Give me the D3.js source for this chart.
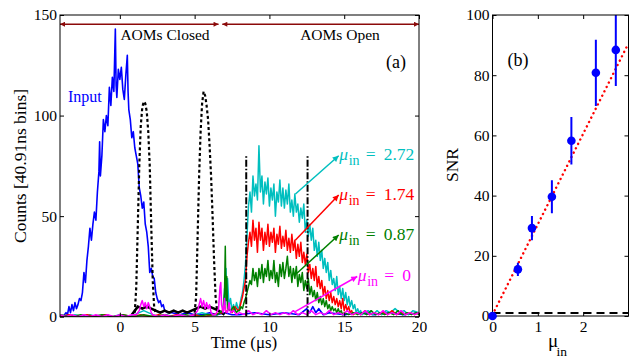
<!DOCTYPE html>
<html><head><meta charset="utf-8">
<script src="https://cdn.jsdelivr.net/npm/d3@7"></script>
<style>
body{margin:0;background:#fff;}
svg{display:block;font-family:"Liberation Serif","Times New Roman",serif;}
</style></head><body>
<svg id="c" width="633" height="358"></svg>
<script>
// ---------------- DATA (panel a) ----------------
const xTicksA = [0, 5, 10, 15, 20];
const yTicksA = [0, 50, 100, 150];
const inputData = [[-4,1],[-3.8,0],[-3.6,2],[-3.5,1],[-3.4,5],[-3.3,2],[-3.2,6],[-3.1,3],[-3,7],[-2.9,4],[-2.8,6],[-2.7,9],[-2.6,8],[-2.5,12],[-2.4,22],[-2.3,17],[-2.2,28],[-2.1,35],[-2,44],[-1.9,38],[-1.8,46],[-1.7,52],[-1.6,48],[-1.5,62],[-1.4,72],[-1.35,87],[-1.3,70],[-1.2,80],[-1.1,98],[-1,92],[-0.9,100],[-0.8,95],[-0.7,114],[-0.6,105],[-0.5,119],[-0.4,112],[-0.3,143],[-0.25,115],[-0.2,109],[-0.1,123],[0,118],[0.1,124],[0.2,113],[0.3,108],[0.4,120],[0.5,130],[0.55,112],[0.6,103],[0.7,98],[0.8,89],[0.9,92],[1,84],[1.1,80],[1.2,76],[1.3,64],[1.4,60],[1.5,54],[1.6,57],[1.7,46],[1.8,42],[1.9,35],[2,22],[2.1,24],[2.2,20],[2.3,19],[2.4,12],[2.5,9],[2.6,7],[2.7,8],[2.8,5],[2.9,6],[3,3],[3.2,2],[3.5,2],[4,1],[4.5,2],[5,1],[5.5,1],[6,2],[6.5,1],[7,2],[7.5,1],[8,1],[9,2],[10,1],[11,2],[12,1],[12.5,4],[12.7,2],[12.9,5],[13.1,2],[13.3,4],[13.6,1],[14,2],[15,1],[16,2],[17,1],[18,2],[19,1],[20,2]];
const controlLeak = [[0.8,1],[1.0,3],[1.2,5],[1.5,4],[1.8,5],[2.1,4],[2.4,3],[2.7,2],[3.0,3],[3.3,2],[3.6,3],[3.9,2],[4.2,3],[4.5,2],[4.8,3],[5.1,4],[5.4,5],[5.7,4],[6.0,5],[6.3,4],[6.6,3],[6.8,2],[7.0,1]];
const controlPulse1 = [[1.0,2],[1.1,15],[1.2,45],[1.3,75],[1.4,95],[1.5,104],[1.6,107],[1.7,106],[1.8,102],[1.9,92],[2.0,75],[2.1,45],[2.2,18],[2.3,4],[2.4,2]];
const controlPulse2 = [[5.0,2],[5.1,10],[5.2,40],[5.3,70],[5.4,92],[5.5,106],[5.6,112],[5.7,110],[5.8,105],[5.9,98],[6.0,85],[6.1,70],[6.2,50],[6.3,28],[6.4,10],[6.5,3]];
const gateTimes = [8.45, 12.55];
const gateLevel = 80;
const cyanData = [[-4,1],[-3.5,0],[-3,1],[-2.5,0],[-2,1],[-1.5,0],[-1,1],[-0.5,0],[0,1],[0.5,0],[1,1],[1.3,2],[1.6,3],[1.9,2],[2.2,1],[2.6,0],[3,1],[3.5,0],[4,1],[4.5,0],[5,1],[5.5,2],[6,1],[6.5,1],[6.9,3],[7.0,14],[7.05,6],[7.1,24],[7.15,9],[7.2,19],[7.3,5],[7.4,9],[7.5,3],[7.6,6],[7.7,3],[7.8,7],[7.9,4],
[8.0,5],[8.1,9],[8.2,12],[8.3,18],[8.4,26],[8.5,40],[8.6,55],[8.7,62],[8.8,52],[8.9,70],[9.0,60],[9.1,66],[9.2,58],[9.3,85],[9.4,62],[9.5,70],[9.6,56],[9.7,67],[9.8,61],[9.9,69],[10.0,55],[10.1,64],[10.2,58],[10.3,66],[10.4,50],[10.5,62],[10.6,57],[10.7,68],[10.8,55],[10.9,64],[11.0,54],[11.1,63],[11.2,56],[11.3,66],[11.4,52],[11.5,58],[11.6,50],[11.7,61],[11.8,52],[11.9,56],[12.0,47],[12.1,54],[12.2,49],[12.3,56],[12.4,42],[12.5,48],[12.6,40],[12.7,46],[12.8,38],[12.9,44],[13.0,33],[13.1,38],[13.2,30],[13.3,37],[13.4,28],[13.5,33],[13.6,24],[13.7,29],[13.8,22],[13.9,27],[14.0,18],[14.1,23],[14.2,16],[14.3,19],[14.4,13],[14.5,20],[14.6,11],[14.7,15],[14.8,9],[14.9,14],[15.0,8],[15.1,12],[15.2,6],[15.3,10],[15.4,5],[15.5,8],[15.6,4],[15.7,6],[15.8,2],[15.9,4],[16.0,2],[16.1,3],[16.2,1],
[16.4,2],[16.6,3],[16.9,1],[17.2,3],[17.5,1],[17.8,3],[18.1,2],[18.4,4],[18.7,2],[19,3],[19.3,1],[19.6,3],[20,2]];
const redData = [[-4,0],[-3.4,1],[-2.8,0],[-2.2,1],[-1.6,0],[-1,1],[-0.4,0],[0.2,1],[0.8,0],[1.4,1],[2,0],[2.6,1],[3.2,0],[3.8,1],[4.4,0],[5,1],[5.6,0],[6.2,1],[6.8,2],[7.0,6],[7.1,2],[7.3,4],[7.5,2],[7.7,5],[7.9,3],
[8.0,4],[8.1,7],[8.2,10],[8.3,14],[8.4,18],[8.5,30],[8.6,37],[8.7,42],[8.8,35],[8.9,48],[9.0,38],[9.1,44],[9.2,32],[9.3,47],[9.4,38],[9.5,44],[9.6,33],[9.7,42],[9.8,36],[9.9,46],[10.0,35],[10.1,42],[10.2,37],[10.3,44],[10.4,32],[10.5,41],[10.6,36],[10.7,45],[10.8,34],[10.9,40],[11.0,35],[11.1,43],[11.2,33],[11.3,39],[11.4,32],[11.5,41],[11.6,33],[11.7,38],[11.8,29],[11.9,36],[12.0,30],[12.1,37],[12.2,27],[12.3,32],[12.4,26],[12.5,31],[12.6,22],[12.7,26],[12.8,19],[12.9,24],[13.0,18],[13.1,25],[13.2,15],[13.3,20],[13.4,14],[13.5,18],[13.6,11],[13.7,15],[13.8,9],[13.9,13],[14.0,8],[14.1,12],[14.2,7],[14.3,10],[14.4,6],[14.5,9],[14.6,5],[14.7,8],[14.8,4],[14.9,9],[15.0,3],[15.1,6],[15.2,3],[15.3,5],[15.4,2],[15.5,3],[15.6,1],
[15.8,2],[16.1,1],[16.4,3],[16.7,1],[17,2],[17.3,1],[17.6,2],[17.9,1],[18.2,3],[18.5,1],[18.8,2],[19.1,1],[19.4,2],[19.7,1],[20,2]];
const greenData = [[-4,1],[-3.3,0],[-2.6,1],[-1.9,0],[-1.2,1],[-0.5,0],[0.2,1],[0.9,0],[1.6,1],[2.3,0],[3,1],[3.7,0],[4.4,1],[5.1,0],[5.8,1],[6.5,1],[6.9,3],[7.0,12],[7.05,35],[7.1,8],[7.15,20],[7.2,4],[7.4,3],[7.6,5],[7.8,2],[7.9,3],
[8.0,3],[8.1,5],[8.2,4],[8.3,7],[8.4,9],[8.5,12],[8.6,15],[8.7,18],[8.8,16],[8.9,24],[9.0,18],[9.1,22],[9.2,15],[9.3,24],[9.4,19],[9.5,26],[9.6,17],[9.7,24],[9.8,20],[9.9,28],[10.0,18],[10.1,23],[10.2,19],[10.3,28],[10.4,17],[10.5,22],[10.6,15],[10.7,26],[10.8,20],[10.9,27],[11.0,19],[11.1,24],[11.2,30],[11.3,20],[11.4,25],[11.5,17],[11.6,24],[11.7,19],[11.8,25],[11.9,15],[12.0,21],[12.1,17],[12.2,22],[12.3,13],[12.4,18],[12.5,14],[12.6,19],[12.7,11],[12.8,15],[12.9,10],[13.0,13],[13.1,8],[13.2,12],[13.3,7],[13.4,10],[13.5,6],[13.6,9],[13.7,5],[13.8,8],[13.9,4],[14.0,6],[14.1,3],[14.2,5],[14.3,3],[14.4,4],[14.5,2],[14.6,4],[14.7,2],[14.8,3],[14.9,1],[15.0,2],
[15.3,1],[15.6,2],[15.9,1],[16.2,2],[16.5,1],[16.8,3],[17.1,1],[17.4,2],[17.7,1],[18,2],[18.3,1],[18.6,3],[18.9,1],[19.2,2],[19.5,1],[19.8,2],[20,1]];
const magentaData = [[-4,1],[-3.6,0],[-3.2,1],[-2.8,0],[-2.4,1],[-2,0],[-1.6,1],[-1.2,0],[-0.8,1],[-0.4,0],[0,1],[0.4,0],[0.8,1],[1.1,1],[1.3,3],[1.4,6],[1.5,8],[1.6,5],[1.7,7],[1.8,4],[1.9,7],[2.0,5],[2.1,2],[2.2,1],[2.6,0],[3,1],[3.5,0],[4,1],[4.5,0],[5,1],[5.2,3],[5.3,6],[5.4,9],[5.5,5],[5.6,8],[5.7,4],[5.8,7],[5.9,4],[6.0,6],[6.1,2],[6.2,1],[6.4,1],[6.6,4],[6.7,15],[6.75,17],[6.8,6],[6.9,2],[7.0,9],[7.05,3],[7.2,2],[7.3,7],[7.4,2],[7.6,3],[7.8,1],[8,2],[8.3,1],[8.6,3],[8.9,1],[9.2,2],[9.5,1],[9.8,3],[10.1,1],[10.4,2],[10.7,1],[11,2],[11.3,1],[11.6,3],[11.9,1],[12.2,2],[12.5,1],[12.8,3],[13.1,1],[13.4,2],[13.7,1],[14,3],[14.3,1],[14.6,2],[14.9,1],[15.2,3],[15.5,1],[15.8,2],[16.1,1],[16.4,3],[16.7,1],[17,2],[17.3,1],[17.6,3],[17.9,1],[18.2,2],[18.5,1],[18.8,3],[19.1,1],[19.4,2],[19.7,1],[20,2]];
const muLabels = ["2.72", "1.74", "0.87", "0"];
const aomSpans = [[-4, 6.6], [6.85, 20]];
const aomLabels = ["AOMs Closed", "AOMs Open"];
const aomLevel = 145.4;

// ---------------- DATA (panel b) ----------------
const xTicksB = [0, 1, 2];
const yTicksB = [0, 20, 40, 60, 80, 100];
const muIn = [0, 0.56, 0.87, 1.31, 1.74, 2.28, 2.72];
const snr = [0, 15.5, 29.2, 39.6, 58.2, 80.8, 88.4];
const snrErr = [0, 2.2, 4, 5.5, 7.9, 11, 12];
const fitMu = [0, 3];
const fitSnr = [0.4, 90.6];
const noiseLevel = 1;

// ---------------- DRAWING ----------------
const FONT = '"Liberation Serif","Times New Roman",serif';
const svg = d3.select("#c");
const defs = svg.append("defs");
function marker(id, color, w, h) {
  defs.append("marker").attr("id", id).attr("viewBox", "0 0 10 10")
    .attr("refX", 10).attr("refY", 5).attr("markerWidth", w).attr("markerHeight", h)
    .attr("markerUnits", "userSpaceOnUse").attr("orient", "auto-start-reverse")
    .append("path").attr("d", "M0,0L10,5L0,10z").attr("fill", color);
}
const COL = {input:"#0000ff", cyan:"#00bfbf", red:"#ff0000", green:"#008000", magenta:"#ff00ff", aom:"#8b0a0a"};
marker("m-aom", COL.aom, 7, 5);
marker("m-cyan", COL.cyan, 7, 6);
marker("m-red", COL.red, 7, 6);
marker("m-green", COL.green, 7, 6);
marker("m-magenta", COL.magenta, 7, 6);

function styleAxis(g, size) {
  g.select(".domain").remove();
  g.attr("font-family", FONT).attr("font-size", size);
  g.selectAll("line").attr("stroke", "#000");
  g.selectAll("text").attr("fill", "#000");
}

// ----- Panel A -----
const xA = d3.scaleLinear().domain([-4, 20]).range([60, 419]);
const yA = d3.scaleLinear().domain([0, 150]).range([316.7, 15]);
defs.append("clipPath").attr("id", "clipA").append("rect")
  .attr("x", xA(-4)).attr("y", yA(150)).attr("width", xA(20) - xA(-4)).attr("height", yA(0) - yA(150));

const lineA = d3.line().x(d => xA(d[0])).y(d => yA(d[1]));
const gA = svg.append("g").attr("clip-path", "url(#clipA)");

gA.append("path").datum(inputData).attr("d", lineA).attr("fill", "none").attr("stroke", COL.input).attr("stroke-width", 1.6).attr("stroke-linejoin", "round");
gA.append("path").datum(controlLeak).attr("d", lineA).attr("fill", "none").attr("stroke", "#000").attr("stroke-width", 2.6);
[controlPulse1, controlPulse2].forEach(p => {
  gA.append("path").datum(p).attr("d", lineA).attr("fill", "none").attr("stroke", "#000")
    .attr("stroke-width", 2.2).attr("stroke-dasharray", "3,2.6");
});
[[cyanData, COL.cyan], [redData, COL.red], [greenData, COL.green], [magentaData, COL.magenta]].forEach(([d, c]) => {
  gA.append("path").datum(d).attr("d", lineA).attr("fill", "none").attr("stroke", c).attr("stroke-width", 1.5).attr("stroke-linejoin", "round");
});
gateTimes.forEach(t => {
  gA.append("path").datum([[t, 0], [t, gateLevel]]).attr("d", lineA).attr("fill", "none")
    .attr("stroke", "#000").attr("stroke-width", 2).attr("stroke-dasharray", "7,2,1.5,2");
});

// AOM arrows
aomSpans.forEach((s, i) => {
  svg.append("line").attr("x1", xA(s[0])).attr("x2", xA(s[1])).attr("y1", yA(aomLevel)).attr("y2", yA(aomLevel))
    .attr("stroke", COL.aom).attr("stroke-width", 1.6)
    .attr("marker-start", "url(#m-aom)").attr("marker-end", "url(#m-aom)");
});
svg.append("text").attr("x", 165).attr("y", 39.5).attr("text-anchor", "middle").attr("font-size", 15.5).text(aomLabels[0]);
svg.append("text").attr("x", 340).attr("y", 39.5).attr("text-anchor", "middle").attr("font-size", 15.5).text(aomLabels[1]);
svg.append("text").attr("x", 396).attr("y", 67.5).attr("text-anchor", "middle").attr("font-size", 18).text("(a)");
svg.append("text").attr("x", 68).attr("y", 102).attr("font-size", 16).attr("fill", COL.input).text("Input");

// annotation arrows + labels
const annots = [
  {c: COL.cyan, m: "m-cyan", from: [11.74, 61], to: [14.63, 80], lab: muLabels[0]},
  {c: COL.red, m: "m-red", from: [11.73, 38], to: [14.63, 60.5], lab: muLabels[1]},
  {c: COL.green, m: "m-green", from: [11.84, 21.6], to: [14.63, 40.6], lab: muLabels[2]},
  {c: COL.magenta, m: "m-magenta", from: [11.72, 2.5], to: [15.87, 20], lab: muLabels[3]}
];
annots.forEach(a => {
  svg.append("line").attr("x1", xA(a.from[0])).attr("y1", yA(a.from[1])).attr("x2", xA(a.to[0])).attr("y2", yA(a.to[1]))
    .attr("stroke", a.c).attr("stroke-width", 1.5).attr("marker-end", `url(#${a.m})`);
  const tx = xA(a.to[0]), ty = yA(a.to[1]);
  const t = svg.append("text").attr("fill", a.c).attr("font-size", 17.5);
  t.append("tspan").attr("x", tx + 0.5).attr("y", ty + 4.5).attr("font-style", "italic").text("μ");
  t.append("tspan").attr("x", tx + 10).attr("y", ty + 9.5).attr("font-size", 14).text("in");
  t.append("tspan").attr("x", tx + 27).attr("y", ty + 4.5).text("=");
  t.append("tspan").attr("x", tx + 45).attr("y", ty + 4.5).text(a.lab);
});

// axes A
svg.append("g").attr("transform", `translate(0,${yA(0)})`)
  .call(d3.axisBottom(xA).tickValues(xTicksA).tickFormat(d3.format("d")).tickSizeInner(-4).tickSizeOuter(0).tickPadding(4)).call(g => styleAxis(g, 15.5));
svg.append("g").attr("transform", `translate(0,${yA(150)})`)
  .call(d3.axisTop(xA).tickValues(xTicksA).tickSizeInner(-4).tickSizeOuter(0).tickFormat("")).call(g => styleAxis(g, 15.5));
svg.append("g").attr("transform", `translate(${xA(-4)},0)`)
  .call(d3.axisLeft(yA).tickValues(yTicksA).tickFormat(d3.format("d")).tickSizeInner(-4).tickSizeOuter(0).tickPadding(3)).call(g => styleAxis(g, 15.5));
svg.append("g").attr("transform", `translate(${xA(20)},0)`)
  .call(d3.axisRight(yA).tickValues(yTicksA).tickSizeInner(-4).tickSizeOuter(0).tickFormat("")).call(g => styleAxis(g, 15.5));
svg.append("rect").attr("x", xA(-4)).attr("y", yA(150)).attr("width", xA(20) - xA(-4)).attr("height", yA(0) - yA(150))
  .attr("fill", "none").attr("stroke", "#000").attr("stroke-width", 1);
svg.append("text").attr("transform", "translate(22,166) rotate(-90)").attr("text-anchor", "middle")
  .attr("dominant-baseline", "middle").attr("font-size", 17.5).text("Counts [40.91ns bins]");
svg.append("text").attr("x", 244).attr("y", 348).attr("text-anchor", "middle").attr("font-size", 17).text("Time (μs)");

// ----- Panel B -----
const xB = d3.scaleLinear().domain([0, 3]).range([492.5, 628.5]);
const yB = d3.scaleLinear().domain([0, 100]).range([316, 15]);
defs.append("clipPath").attr("id", "clipB").append("rect")
  .attr("x", xB(0)).attr("y", yB(100)).attr("width", xB(3) - xB(0)).attr("height", yB(0) - yB(100));
const gB = svg.append("g").attr("clip-path", "url(#clipB)");
gB.append("line").attr("x1", xB(0)).attr("x2", xB(3)).attr("y1", yB(noiseLevel)).attr("y2", yB(noiseLevel))
  .attr("stroke", "#000").attr("stroke-width", 1.8).attr("stroke-dasharray", "8,5");
gB.append("line").attr("x1", xB(fitMu[0])).attr("x2", xB(fitMu[1])).attr("y1", yB(fitSnr[0])).attr("y2", yB(fitSnr[1]))
  .attr("stroke", "#ff0000").attr("stroke-width", 2.4).attr("stroke-linecap", "round").attr("stroke-dasharray", "0.1,4.8");
muIn.forEach((m, i) => {
  if (snrErr[i] > 0)
    gB.append("line").attr("x1", xB(m)).attr("x2", xB(m)).attr("y1", yB(snr[i] - snrErr[i])).attr("y2", yB(snr[i] + snrErr[i]))
      .attr("stroke", "#0000ff").attr("stroke-width", 2);
});

svg.append("g").attr("transform", `translate(0,${yB(0)})`)
  .call(d3.axisBottom(xB).tickValues(xTicksB).tickFormat(d3.format("d")).tickSizeInner(-4).tickSizeOuter(0).tickPadding(5)).call(g => styleAxis(g, 15.5));
svg.append("g").attr("transform", `translate(0,${yB(100)})`)
  .call(d3.axisTop(xB).tickValues(xTicksB).tickSizeInner(-4).tickSizeOuter(0).tickFormat("")).call(g => styleAxis(g, 15.5));
svg.append("g").attr("transform", `translate(${xB(0)},0)`)
  .call(d3.axisLeft(yB).tickValues(yTicksB).tickFormat(d3.format("d")).tickSizeInner(-4).tickSizeOuter(0).tickPadding(3)).call(g => styleAxis(g, 15.5));
svg.append("g").attr("transform", `translate(${xB(3)},0)`)
  .call(d3.axisRight(yB).tickValues(yTicksB).tickSizeInner(-4).tickSizeOuter(0).tickFormat("")).call(g => styleAxis(g, 15.5));
svg.append("rect").attr("x", xB(0)).attr("y", yB(100)).attr("width", xB(3) - xB(0)).attr("height", yB(0) - yB(100))
  .attr("fill", "none").attr("stroke", "#000").attr("stroke-width", 1);
svg.append("g").selectAll("circle").data(muIn).join("circle")
  .attr("cx", d => xB(d)).attr("cy", (d, i) => yB(snr[i])).attr("r", 4.3).attr("fill", "#0000ff");
svg.append("text").attr("x", 518).attr("y", 66).attr("text-anchor", "middle").attr("font-size", 18).text("(b)");
svg.append("text").attr("transform", "translate(454,165) rotate(-90)").attr("text-anchor", "middle")
  .attr("dominant-baseline", "middle").attr("font-size", 17.5).text("SNR");
const xl = svg.append("text").attr("font-size", 19);
xl.append("tspan").attr("x", 548).attr("y", 347).text("μ");
xl.append("tspan").attr("x", 556.5).attr("y", 356).attr("font-size", 13.5).text("in");
</script>
</body></html>
